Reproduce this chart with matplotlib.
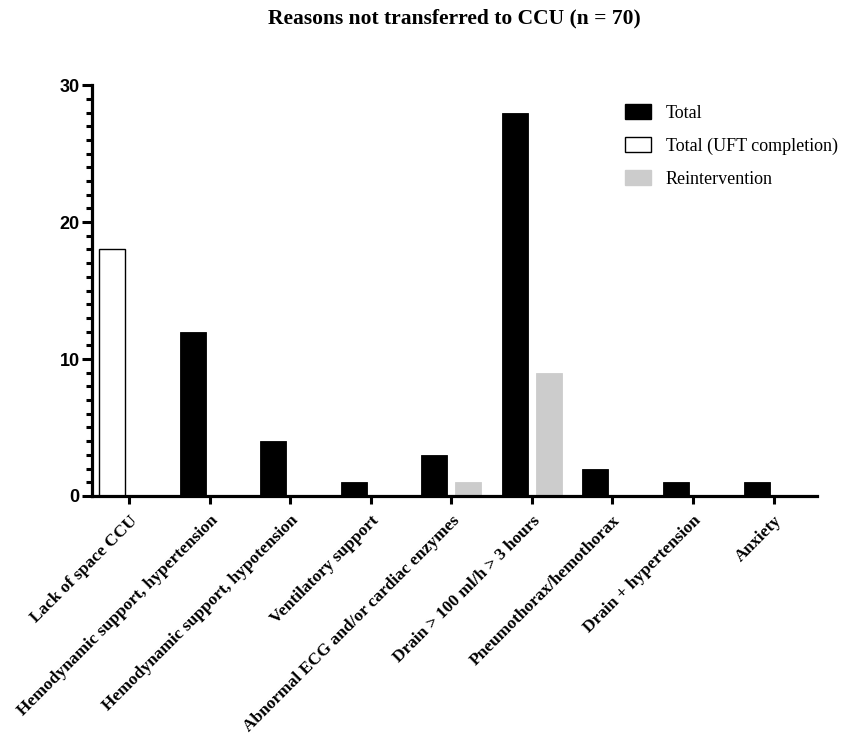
import numpy as np
import matplotlib
matplotlib.use("Agg")
import matplotlib.pyplot as plt
from matplotlib.patches import Patch
from matplotlib.ticker import MultipleLocator

categories = [
    "Lack of space CCU",
    "Hemodynamic support, hypertension",
    "Hemodynamic support, hypotension",
    "Ventilatory support",
    "Abnormal ECG and/or cardiac enzymes",
    "Drain > 100 ml/h > 3 hours",
    "Pneumothorax/hemothorax",
    "Drain + hypertension",
    "Anxiety",
]
total = [0, 12, 4, 1, 3, 28, 2, 1, 1]
total_uft = [18, 0, 0, 0, 0, 0, 0, 0, 0]
reintervention = [0, 0, 0, 0, 1, 9, 0, 0, 0]

TITLE = "Reasons not transferred to CCU (n = 70)"
SERIF = "Liberation Serif"
SANS = "Liberation Sans"

fig = plt.figure(figsize=(8.41, 7.34), dpi=100)
ax = fig.add_axes([0.1094, 0.3243, 0.8621, 0.5597])

x = np.arange(len(categories))
w = 0.323
off = 0.211

def nz(vals):
    # zero-height bars are not drawn
    return np.array([v if v > 0 else np.nan for v in vals], dtype=float)

ax.bar(x - off, nz(total), w, color="black", edgecolor="black", linewidth=0.6, zorder=2)
ax.bar(x - off, nz(total_uft), w, color="white", edgecolor="black", linewidth=1.0, zorder=2)
ax.bar(x + off, nz(reintervention), w, color="#cccccc", edgecolor="#cccccc", linewidth=0.6, zorder=2)

ax.set_xlim(-0.46, 8.54)
ax.set_ylim(0, 30)

for s in ["top", "right"]:
    ax.spines[s].set_visible(False)
for s in ["left", "bottom"]:
    ax.spines[s].set_linewidth(2.3)
    ax.spines[s].set_zorder(3)

ax.yaxis.set_major_locator(MultipleLocator(10))
ax.yaxis.set_minor_locator(MultipleLocator(1))
ax.tick_params(axis="y", which="major", length=7, width=2.2, pad=2, labelsize=13)
ax.tick_params(axis="y", which="minor", length=4.5, width=2.2)
for lab in ax.get_yticklabels():
    lab.set_fontfamily(SANS)
    lab.set_fontweight("bold")

ax.set_xticks(x)
ax.set_xticklabels(categories, rotation=45, ha="right", rotation_mode="anchor")
for lab in ax.get_xticklabels():
    lab.set_fontfamily(SERIF)
    lab.set_fontweight("bold")
    lab.set_fontsize(12.5)
ax.tick_params(axis="x", which="major", length=6, width=2.2, pad=6)

fig.text(0.5405, 0.975, TITLE, ha="center", va="center",
         fontfamily=SERIF, fontweight="bold", fontsize=15.5)

handles = [
    Patch(facecolor="black", edgecolor="black", label="Total"),
    Patch(facecolor="white", edgecolor="black", linewidth=1.0, label="Total (UFT completion)"),
    Patch(facecolor="#cccccc", edgecolor="#cccccc", label="Reintervention"),
]
leg = fig.legend(handles=handles, loc="upper left", bbox_to_anchor=(0.7433, 0.858),
                 frameon=False, prop={"family": SERIF, "size": 13},
                 handlelength=1.45, handleheight=0.9, handletextpad=0.8,
                 labelspacing=0.85, borderaxespad=0, borderpad=0)

fig.savefig("out.png", dpi=100)
